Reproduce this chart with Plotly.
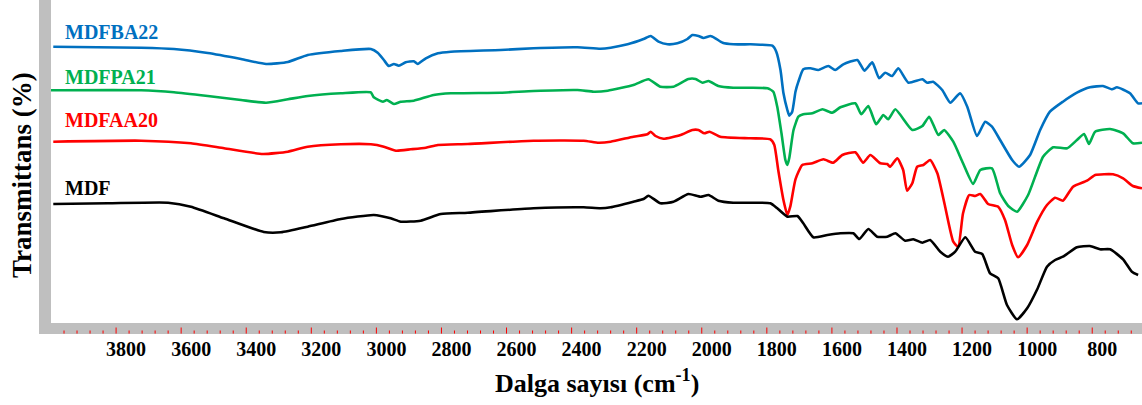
import plotly.graph_objects as go

# Wavenumber (cm-1) and relative transmittance (offset, arbitrary units)
mdfba22_x = [3993, 3723, 3622, 3518, 3416, 3339, 3272, 3211, 3109, 3017, 2996, 2977, 2962, 2946, 2931, 2910, 2885, 2873, 2848, 2811, 2771, 2618, 2517, 2382, 2311, 2280, 2228, 2179, 2157, 2133, 2105, 2075, 2044, 2029, 2010, 1995, 1973, 1958, 1936, 1903, 1850, 1820, 1783, 1771, 1758, 1749, 1737, 1731, 1722, 1712, 1703, 1688, 1666, 1642, 1611, 1590, 1565, 1522, 1500, 1476, 1455, 1436, 1415, 1396, 1365, 1322, 1307, 1289, 1261, 1236, 1206, 1184, 1154, 1129, 1108, 1083, 1046, 1025, 991, 960, 930, 890, 847, 807, 767, 739, 724, 684, 659, 647]
mdfba22_y = [276.3, 275.3, 274, 270, 264, 259, 261, 268, 272, 274, 270.3, 263, 257, 259, 257.3, 260.7, 261.7, 259, 264.7, 269.7, 271.3, 273, 274.7, 275.7, 274.3, 275.3, 278.7, 284, 287, 281.3, 278.7, 279.7, 284, 288, 287, 285, 287, 284.7, 280.3, 278.7, 278.7, 278.3, 277.3, 271.3, 253, 230, 213, 207.3, 211.3, 231.3, 241.3, 253.7, 254.7, 253, 257, 253, 258.7, 263, 252.3, 260.7, 244.7, 250.3, 247, 254.7, 240.3, 243.7, 240.3, 241.3, 233, 220.3, 229.7, 216.3, 187, 201.3, 196.3, 183, 163, 156.3, 168, 193, 211.3, 221.3, 230.3, 235.7, 237, 233.7, 235.7, 229.7, 219.7, 219.7]

mdfpa21_x = [4000, 3723, 3622, 3518, 3416, 3339, 3272, 3211, 3109, 3017, 3008, 2980, 2968, 2946, 2925, 2885, 2824, 2771, 2618, 2517, 2382, 2332, 2289, 2210, 2164, 2127, 2087, 2041, 2019, 1998, 1979, 1949, 1903, 1850, 1798, 1780, 1768, 1755, 1743, 1737, 1731, 1718, 1703, 1688, 1660, 1629, 1599, 1574, 1528, 1510, 1488, 1464, 1442, 1427, 1405, 1353, 1322, 1301, 1273, 1255, 1227, 1197, 1166, 1144, 1108, 1083, 1058, 1031, 997, 951, 920, 877, 847, 825, 810, 791, 745, 705, 675, 647]
mdfpa21_y = [232.7, 232.7, 230.7, 227, 223, 220.3, 223.7, 227, 229.7, 230.7, 225.7, 221.3, 223, 219, 221.3, 222.3, 228, 229.7, 230.3, 232, 233, 231.3, 232.3, 238, 243.7, 236.3, 236.3, 244, 244, 240.3, 242, 237, 235.3, 235.3, 234.7, 231.3, 216.3, 189.7, 163, 158, 165, 193, 206.3, 208.7, 209.7, 213.7, 210.3, 215.7, 219.7, 208.7, 217, 198.7, 208, 203.7, 213.7, 193, 197, 206.3, 188, 193, 181.3, 159.7, 139, 153, 154.7, 129.7, 117, 111.3, 128, 166.3, 175.7, 174.7, 183, 189, 179, 191.3, 194, 189.7, 179.7, 180.3]

mdfaa20_x = [3993, 3723, 3570, 3468, 3349, 3272, 3211, 3109, 3017, 2977, 2940, 2894, 2848, 2811, 2719, 2517, 2363, 2317, 2280, 2210, 2167, 2157, 2142, 2118, 2065, 2029, 2010, 1992, 1976, 1943, 1850, 1789, 1777, 1765, 1749, 1737, 1728, 1712, 1691, 1660, 1626, 1596, 1568, 1528, 1504, 1482, 1451, 1430, 1421, 1399, 1381, 1369, 1353, 1338, 1319, 1298, 1276, 1252, 1227, 1212, 1197, 1178, 1160, 1144, 1120, 1089, 1068, 1046, 1028, 1000, 969, 939, 914, 890, 859, 816, 791, 736, 705, 675, 647]
mdfaa20_y = [181.3, 182.3, 179.7, 174.7, 169, 171.3, 176.3, 178.7, 178.7, 176.3, 172.3, 173.7, 175.3, 178, 179, 182.3, 182.3, 180.3, 181.3, 186.3, 188.7, 191.3, 187, 184.3, 188, 193, 193, 189.7, 191.3, 186.3, 184.7, 183.7, 178, 153, 123, 108, 116.3, 143.7, 158, 159.7, 163.7, 160.3, 168, 170.7, 160.3, 168, 159.7, 159, 156.3, 164.7, 153, 132.3, 139.7, 156.3, 158, 163, 149.7, 116.3, 81.3, 76.3, 109.7, 128, 127, 129, 119, 116.3, 103, 78, 65.7, 78, 101.3, 118, 125.3, 122.3, 136.3, 142.3, 148, 148.7, 144.7, 137, 134.7]

mdf_x = [3993, 3825, 3640, 3570, 3468, 3346, 3293, 3211, 3109, 3008, 2956, 2925, 2864, 2802, 2719, 2517, 2363, 2311, 2280, 2210, 2179, 2164, 2127, 2087, 2041, 2004, 1979, 1949, 1903, 1850, 1789, 1768, 1737, 1706, 1688, 1657, 1614, 1574, 1534, 1516, 1488, 1461, 1430, 1405, 1375, 1350, 1322, 1298, 1267, 1243, 1221, 1190, 1160, 1138, 1114, 1089, 1062, 1031, 1000, 969, 939, 914, 890, 847, 807, 776, 745, 705, 678, 659]
mdf_y = [119, 119.7, 120.3, 116.3, 104.7, 91, 90.7, 96.3, 104, 108, 104.7, 101.3, 102.3, 109, 110.3, 114.7, 115.7, 114.7, 115.7, 121.3, 124, 127.3, 119.7, 121.3, 129, 126.3, 128, 122.3, 120.3, 120.3, 119.7, 114.7, 106.3, 107, 99.7, 85.7, 88, 89.7, 89.7, 84, 94, 86.3, 86.3, 89.7, 82.3, 83.7, 80.3, 83, 71.3, 66.3, 71.3, 85.7, 71.3, 69, 49.7, 44.7, 18, 3.7, 14.7, 33.7, 56.3, 63, 66.3, 75.7, 77, 73.7, 73.7, 63.7, 51.3, 48]

series_names = ["MDFBA22", "MDFPA21", "MDFAA20", "MDF"]
series_colors = ["#0070C0", "#00B050", "#FF0000", "#000000"]
label_y = [291.5, 246.5, 203.5, 135]  # label centre heights in data units

tick_vals = [3800, 3600, 3400, 3200, 3000, 2800, 2600, 2400, 2200, 2000, 1800, 1600, 1400, 1200, 1000, 800]
minor_ticks = [w for w in range(3960, 640, -40)]

X_RANGE = [4000, 647]
Y_RANGE = [0, 323]
W, H = 1142, 405
ML, MB = 51, 82
PW, PH = W - ML, H - MB

fig = go.Figure()
xs = [mdfba22_x, mdfpa21_x, mdfaa20_x, mdf_x]
ys = [mdfba22_y, mdfpa21_y, mdfaa20_y, mdf_y]
for name, col, x, y in zip(series_names, series_colors, xs, ys):
    fig.add_trace(go.Scatter(x=x, y=y, mode="lines", name=name,
                             line=dict(color=col, width=2.6, shape="spline", smoothing=0.5),
                             showlegend=False, hoverinfo="x+y+name"))

serif = "Liberation Serif, Times New Roman, serif"

shapes = []
band = 11 / PH
lbar = 12 / PW
# gray L-shaped axis frame
shapes.append(dict(type="rect", xref="paper", yref="paper", x0=-lbar, x1=0, y0=-band, y1=1,
                   fillcolor="#BFBFBF", line_width=0, layer="above"))
shapes.append(dict(type="rect", xref="paper", yref="paper", x0=-lbar, x1=1.0, y0=-band, y1=0,
                   fillcolor="#BFBFBF", line_width=0, layer="above"))
for t in minor_ticks:
    major = (t % 200 == 0)
    ln = (6.5 if major else 3.5) / PH
    shapes.append(dict(type="line", xref="x", yref="paper", x0=t, x1=t,
                       y0=-band + 0.4 / PH, y1=-band + ln,
                       line=dict(color="#FF0000", width=1), layer="above"))

annotations = []
for name, col, ly in zip(series_names, series_colors, label_y):
    annotations.append(dict(text="<b>%s</b>" % name, xref="paper", yref="y",
                            x=12 / PW, y=ly, xanchor="left", yanchor="middle",
                            showarrow=False, font=dict(family=serif, size=20, color=col)))
annotations.append(dict(text="<b>Transmittans (%)</b>", xref="paper", yref="paper",
                        x=-29 / PW, y=(PH - 175) / PH, xanchor="center", yanchor="middle",
                        textangle=-90, showarrow=False,
                        font=dict(family=serif, size=27, color="#000000")))
annotations.append(dict(text="<b>Dalga sayısı (cm<sup>-1</sup>)</b>", xref="paper", yref="paper",
                        x=0.5, y=(PH - 381) / PH, xanchor="center", yanchor="middle",
                        showarrow=False,
                        font=dict(family=serif, size=26, color="#000000")))

fig.update_layout(
    width=W, height=H,
    margin=dict(l=ML, r=0, t=0, b=MB),
    paper_bgcolor="white", plot_bgcolor="white",
    shapes=shapes, annotations=annotations,
    xaxis=dict(range=X_RANGE, tickvals=tick_vals, ticktext=[str(v) for v in tick_vals],
               showgrid=False, zeroline=False, showline=False, ticks="",
               ticklabelstandoff=12, ticklabelshift=-10,
               tickfont=dict(family=serif, size=20, color="#000000", weight="bold")),
    yaxis=dict(range=Y_RANGE, showticklabels=False, showgrid=False, zeroline=False,
               showline=False, ticks=""),
)

fig.write_html("out.html")
